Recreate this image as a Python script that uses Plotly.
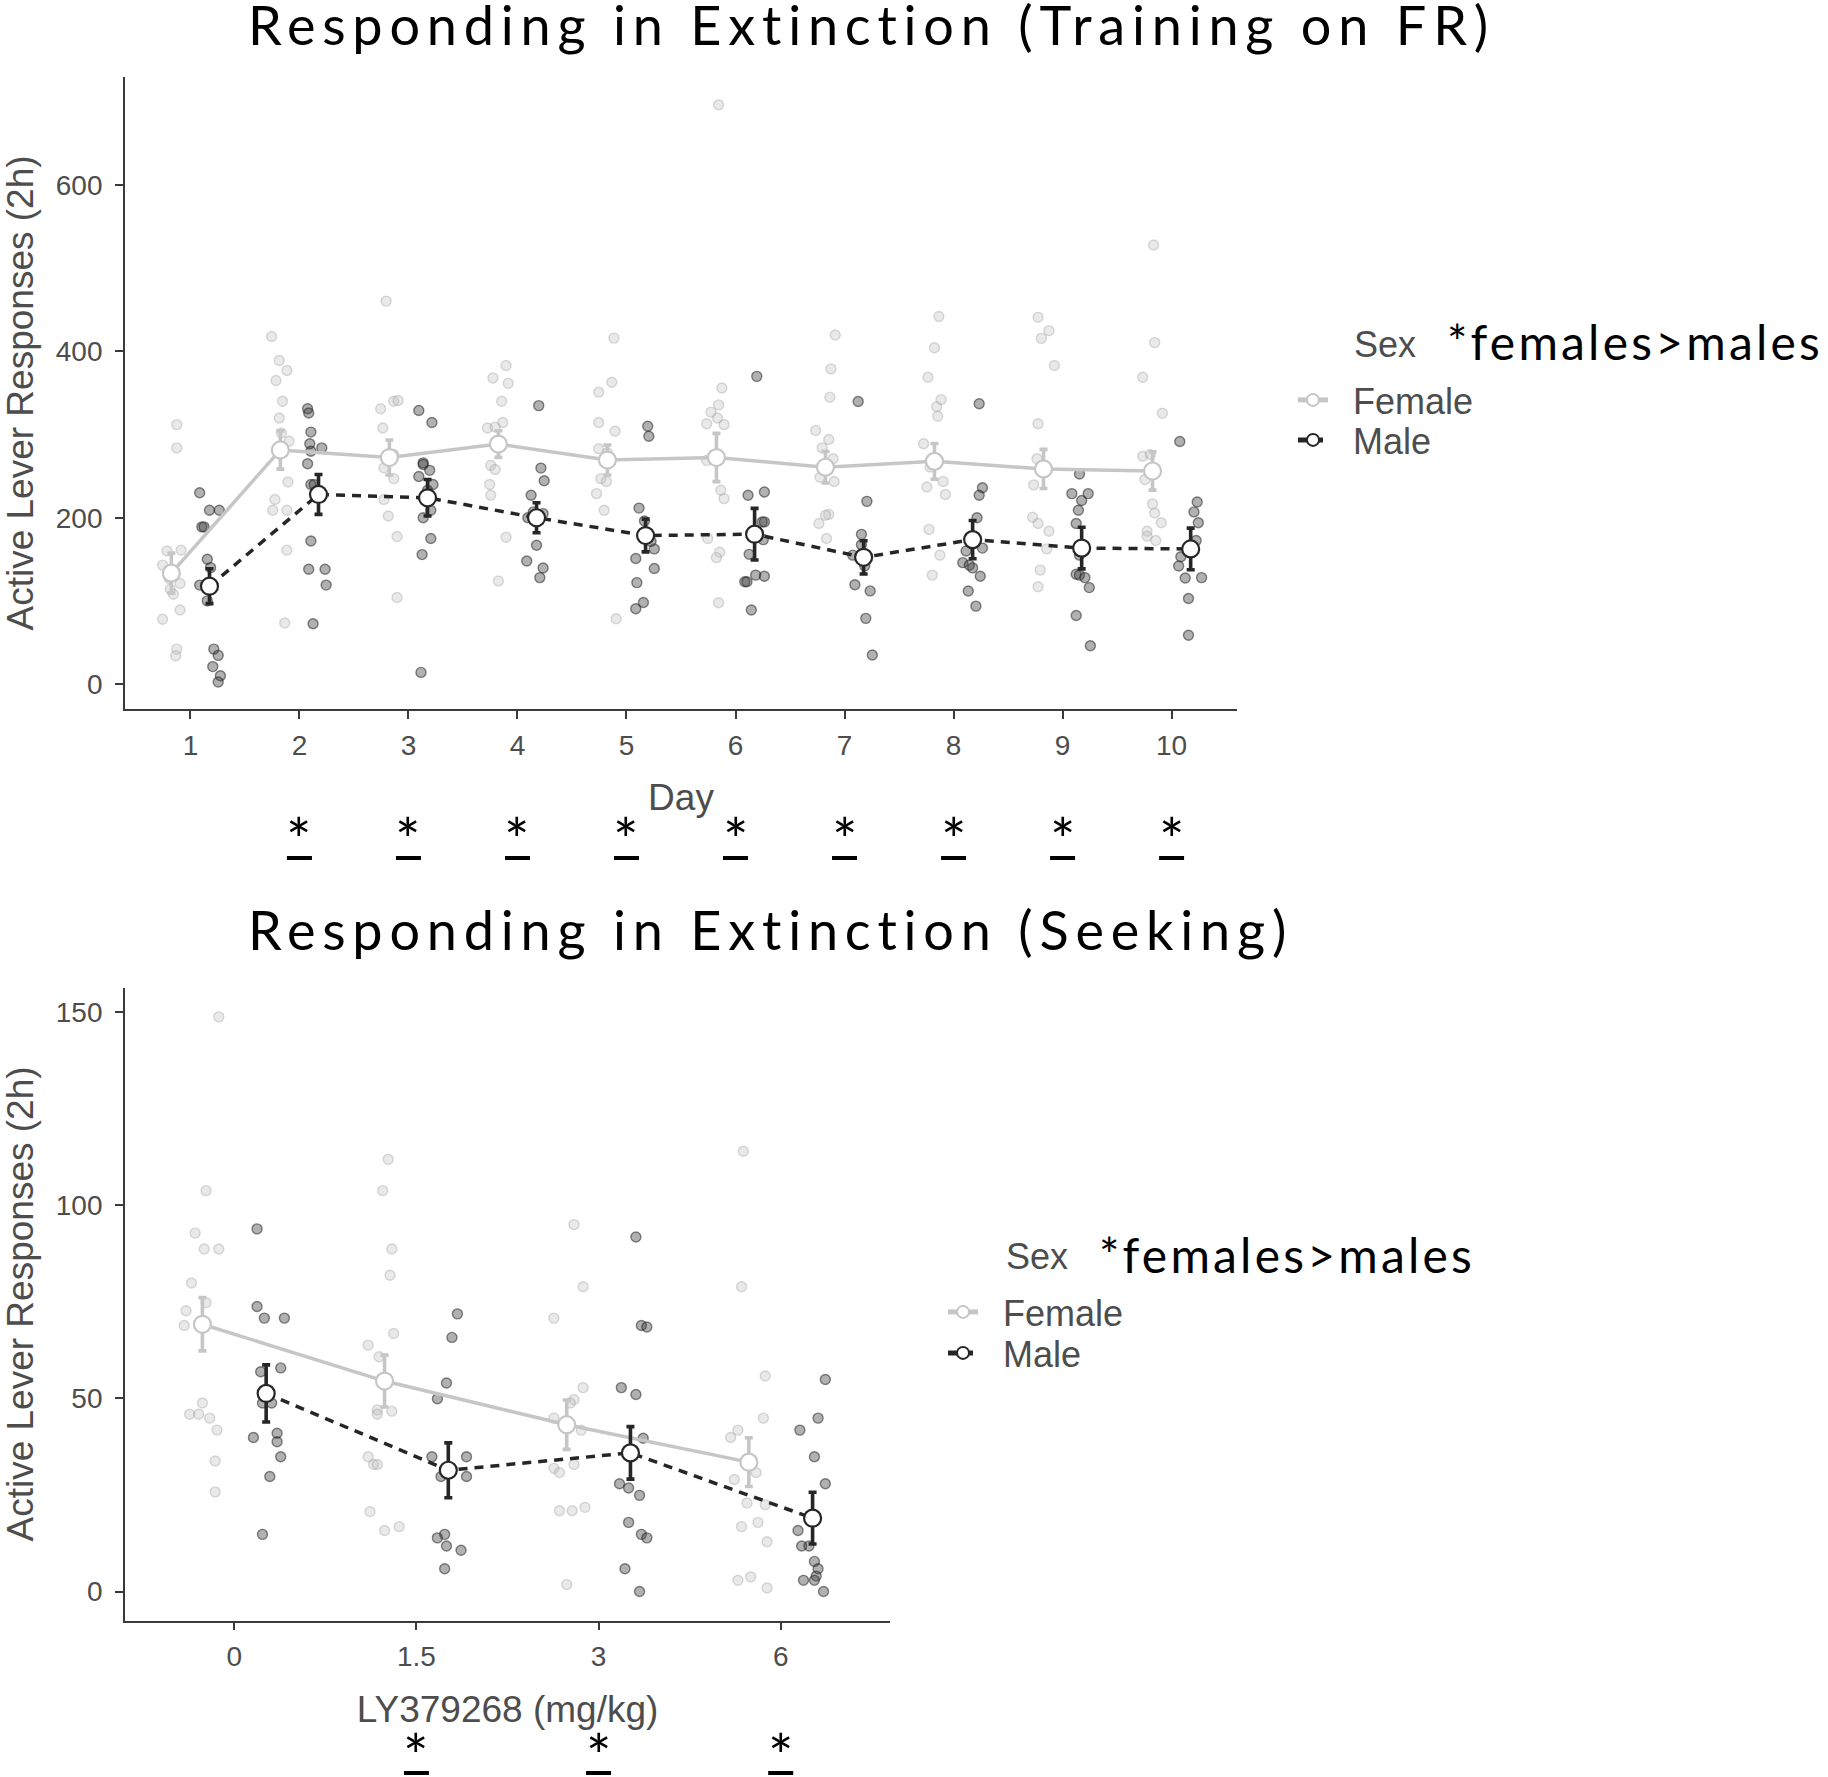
import plotly.graph_objects as go

# ---------------- data: Responding in Extinction (Training on FR) ----------------
days = [1, 2, 3, 4, 5, 6, 7, 8, 9, 10]
day_labels = ["1", "2", "3", "4", "5", "6", "7", "8", "9", "10"]
fr_female_mean = [133.4, 281.5, 272.4, 288.6, 269.4, 272.4, 260.7, 267.8, 258.7, 256.2]
fr_female_se = [24, 23, 21, 16, 18, 29, 19, 21.5, 23.5, 23]
fr_male_mean = [117.7, 228, 224, 200, 178.6, 180.2, 152.4, 173.7, 163.5, 162.5]
fr_male_se = [21, 24, 22, 18, 19.7, 31, 20, 23, 25, 25]

# individual animals (values) and their horizontal jitter
fr_female_y = [
    [312, 284, 160, 161, 143, 127, 121, 114, 108, 89, 78, 42, 34],
    [418, 389, 365, 377, 340, 320, 302, 292, 243, 222, 209, 209, 161, 73.5],
    [460.5, 331, 340, 341, 308, 276, 260, 247, 222, 202, 177.5, 104],
    [383, 368, 361.6, 340, 308, 309, 314.5, 263, 258, 240, 227, 176.5, 124],
    [416, 363, 351, 314.5, 304, 283, 278, 247, 243.5, 229, 209, 78.6],
    [696.5, 356, 335.7, 327, 313, 320, 312, 269, 233, 223, 175, 158.5, 152, 97.7],
    [419.7, 379, 345, 305, 294, 284, 271, 248.6, 243.5, 204, 193, 175, 203],
    [442, 404.5, 369, 342, 333.6, 322, 289, 261, 237, 243.5, 228, 186, 155, 131],
    [441, 425, 415.7, 383, 313, 271, 239.5, 200.5, 193, 183.8, 162.5, 137, 117],
    [528, 410.6, 369, 325.6, 274, 276, 246, 216.7, 205.6, 194, 183.8, 172.6, 177.7],
]
fr_female_dx = [
    [.05, .05, -.04, .09, -.08, -.02, .08, -.01, .02, .08, -.08, .05, .04],
    [-.08, -.01, -.04, .06, .02, -.01, .01, .08, .07, -.05, -.07, .06, .06, .04],
    [-.03, -.08, .04, .08, -.06, .04, -.05, .04, -.05, -.01, .07, .07],
    [.07, -.05, .09, .03, -.10, -.03, .04, -.07, -.03, -.08, -.07, .07, 0],
    [.06, .04, -.08, -.08, .07, -.08, 0, -.06, -.01, -.10, -.03, .08],
    [.02, .05, .02, -.05, -.09, .01, .07, -.09, .04, .07, -.08, .03, 0, .02],
    [.09, .05, .04, -.09, .03, -.03, .07, -.05, .08, .03, -.06, .01, 0],
    [.04, 0, -.06, .06, .02, .03, -.10, -.04, -.07, .08, .10, -.05, .05, -.02],
    [-.05, .05, -.02, .10, -.05, -.06, -.09, -.10, -.05, .05, .03, -.03, -.05],
    [.01, .02, -.09, .09, -.09, -.02, -.07, 0, .02, .08, -.05, .03, -.05],
]
fr_male_y = [
    [230, 189, 189, 209, 209, 150, 140, 119, 100, 42, 34.5, 21, 10, 2.5],
    [331, 326, 303, 289, 284, 280, 265, 240, 240, 172, 138, 138, 119, 72.5],
    [329, 314.5, 266, 264, 257, 249.5, 240, 233, 209, 200, 175, 155.7, 14],
    [334.8, 259.7, 244.5, 227, 207, 205, 200, 199, 167, 148, 139.5, 128],
    [310, 298, 211.6, 196, 171.6, 162.5, 151, 139, 122, 98, 90.6],
    [370, 227, 231, 195, 195, 156, 173.7, 131, 129.6, 123, 123, 89],
    [339.7, 219.7, 180, 167.6, 155, 142, 119.5, 112, 79, 35],
    [337, 236, 227, 200, 163.5, 160, 146, 143, 139.7, 129.6, 111.9, 93.7],
    [252.6, 229, 220.7, 229, 209, 193, 155, 132, 131, 128, 116, 82.5, 46],
    [291.6, 219, 207, 194, 172.6, 162.5, 153, 142, 127.6, 128, 102.8, 58.7],
]
fr_male_dx = [
    [-.09, -.07, -.05, 0, .09, -.02, .01, -.09, -.02, .04, .08, .03, .10, .08],
    [-.10, -.09, -.07, -.08, .03, -.07, -.10, -.07, -.04, -.07, -.09, .06, .07, -.05],
    [-.08, .04, -.04, -.04, .02, -.08, .05, 0, .03, -.04, .03, -.05, -.06],
    [.02, .04, .07, -.05, -.03, .06, -.08, .03, 0, -.09, .06, .03],
    [.02, .03, -.06, -.01, .05, .08, -.09, .08, -.08, -.02, -.09],
    [.02, -.06, .09, .07, .09, -.05, .08, .01, .09, -.09, -.07, -.03],
    [-.05, .03, -.02, -.02, -.10, .01, -.08, .06, .02, .08],
    [.06, .09, .06, .04, .09, -.06, -.09, -.03, 0, .07, -.04, .03],
    [-.02, -.09, 0, .06, -.03, -.05, -.02, -.05, -.02, .03, .07, -.05, .08],
    [-.10, .06, .03, .07, .05, .03, -.09, -.11, -.05, .10, -.02, -.02],
]
fr_sig_days = [2, 3, 4, 5, 6, 7, 8, 9, 10]

# ---------------- data: Responding in Extinction (Seeking) ----------------
doses = ["0", "1.5", "3", "6"]
ly_female_mean = [69.2, 54.5, 43.2, 33.5]
ly_female_se = [6.9, 6.7, 6.4, 6.3]
ly_male_mean = [51.3, 31.4, 35.9, 19.0]
ly_male_se = [7.4, 7.1, 6.8, 6.7]
ly_female_y = [
    [148.8, 103.8, 92.8, 88.7, 88.7, 79.9, 72.7, 74.8, 68.9, 48.8, 45.9, 45.9, 44.9, 41.8, 33.8, 25.8],
    [111.9, 103.8, 88.7, 81.9, 66.8, 63.8, 60.8, 47, 45.9, 46.7, 34.9, 32.9, 32.9, 20.7, 15.8, 16.8],
    [95, 78.9, 70.8, 52.8, 49.7, 48.8, 44.9, 41.8, 32.9, 31.9, 30.8, 20.9, 20.9, 21.8, 1.8],
    [114, 78.9, 55.8, 44.9, 41.8, 39.9, 30.8, 29, 22.9, 22.5, 17.9, 16.8, 12.9, 3.8, 2.9, 0.9],
]
ly_female_dx = [
    [.09, .02, -.04, .01, .09, -.06, -.09, .02, -.10, 0, -.07, -.02, .04, .08, .07, .07],
    [.02, -.01, .04, .03, .05, -.09, -.03, -.04, -.04, .04, -.09, -.06, -.04, -.08, 0, .08],
    [.04, .09, -.07, .09, .04, .02, -.07, .08, .04, -.07, -.04, -.04, .03, .10, 0],
    [-.03, -.04, .09, .08, -.06, -.10, .04, -.08, -.01, .09, .05, -.04, .10, .01, -.06, .10],
]
ly_male_y = [
    [93.9, 73.8, 70.8, 70.8, 56.9, 57.9, 48.8, 48.8, 41, 39.9, 38.8, 34.9, 29.8, 14.8],
    [71.9, 65.8, 54, 49.9, 34.9, 34.9, 29.8, 29.8, 14.8, 13.9, 11.8, 10.7, 5.9],
    [91.8, 68.9, 68.5, 52.8, 51, 39.7, 27.9, 26.8, 24.9, 17.9, 14.8, 13.9, 5.9, 0],
    [54.9, 44.9, 41.8, 34.9, 27.9, 15.8, 11.8, 11.8, 7.8, 5.9, 4, 2.9, 2.9, 0],
]
ly_male_dx = [
    [-.05, -.05, -.01, .10, -.03, .08, -.02, .03, .06, -.07, .06, .08, .02, -.02],
    [.05, .02, -.01, -.06, -.09, .10, -.04, .10, -.02, -.06, -.01, .07, -.02],
    [.03, .06, .09, -.05, .03, .07, -.06, -.01, .05, -.01, .06, .09, -.03, .05],
    [.07, .03, -.07, .01, .07, -.08, -.06, -.02, .01, .03, .02, -.05, .01, .06],
]
ly_sig_doses = ["1.5", "3", "6"]

# ---------------- styling ----------------
W, H = 1828, 1777
DODGE = 0.175
F_COL = "#c6c6c6"
M_COL = "#262626"
AX_COL = "#3a3a3a"
TXT_COL = "#4d4d4d"
SANS = "Liberation Sans, Arial, sans-serif"
CAL = "Lato, Carlito, Calibri, sans-serif"
PAD = "\u00a0" * 2  # gap between legend key and label, as in the reference


def px_x(v):
    return v / W


def px_y(v):
    return 1 - v / H


fig = go.Figure()


def add_points(centres, ylists, dxlists, sign, fill, edge, xa, ya):
    xs, ys = [], []
    for c, yl, dl in zip(centres, ylists, dxlists):
        for y, d in zip(yl, dl):
            xs.append(c + sign * DODGE + d)
            ys.append(y)
    fig.add_trace(go.Scatter(
        x=xs, y=ys, mode="markers", xaxis=xa, yaxis=ya, showlegend=False,
        hoverinfo="skip",
        marker=dict(size=10, color=fill, line=dict(color=edge, width=1.4)),
    ))


def add_means(centres, mean, se, sign, name, colour, dash, xa, ya, legend):
    fig.add_trace(go.Scatter(
        x=[c + sign * DODGE for c in centres], y=mean, name=PAD + name,
        mode="lines+markers", xaxis=xa, yaxis=ya, legend=legend,
        line=dict(color=colour, width=3.5, dash=dash),
        marker=dict(size=17, color="white", line=dict(color=colour, width=2.2)),
        error_y=dict(type="data", array=se, color=colour, thickness=3.6, width=4),
    ))


F_PT = ("rgba(190,190,190,0.34)", "rgba(150,150,150,0.34)")
M_PT = ("rgba(60,60,60,0.40)", "rgba(30,30,30,0.52)")

# top panel
add_points(days, fr_female_y, fr_female_dx, -1, *F_PT, "x", "y")
add_points(days, fr_male_y, fr_male_dx, 1, *M_PT, "x", "y")
add_means(days, fr_female_mean, fr_female_se, -1, "Female", F_COL, "solid", "x", "y", "legend")
add_means(days, fr_male_mean, fr_male_se, 1, "Male", M_COL, "9px,7px", "x", "y", "legend2")

# bottom panel
dose_idx = list(range(len(doses)))
add_points(dose_idx, ly_female_y, ly_female_dx, -1, *F_PT, "x2", "y2")
add_points(dose_idx, ly_male_y, ly_male_dx, 1, *M_PT, "x2", "y2")
add_means(dose_idx, ly_female_mean, ly_female_se, -1, "Female", F_COL, "solid", "x2", "y2", "legend3")
add_means(dose_idx, ly_male_mean, ly_male_se, 1, "Male", M_COL, "9px,7px", "x2", "y2", "legend4")

axis_common = dict(
    showline=True, linecolor=AX_COL, linewidth=1.8, ticks="outside", ticklen=8,
    tickwidth=1.8, tickcolor=AX_COL, showgrid=False, zeroline=False,
    tickfont=dict(family=SANS, size=28, color=TXT_COL),
    title_font=dict(family=SANS, size=37, color=TXT_COL),
)

legend_common = dict(
    xanchor="left", yanchor="middle", bgcolor="rgba(0,0,0,0)",
    font=dict(family=SANS, size=36, color=TXT_COL), itemwidth=30,
    itemsizing="constant",
)

TITLE_SP = '<span style="letter-spacing:6.8px">%s</span>'
NOTE_SP = '<span style="letter-spacing:3.2px">%s</span>'
annotations = [
    dict(text=TITLE_SP % "Responding in Extinction (Training on FR)",
         xref="paper", yref="paper", x=px_x(246), y=px_y(24), xanchor="left", yanchor="middle",
         showarrow=False, font=dict(family=CAL, size=54, color="black")),
    dict(text=TITLE_SP % "Responding in Extinction (Seeking)",
         xref="paper", yref="paper", x=px_x(246), y=px_y(930), xanchor="left", yanchor="middle",
         showarrow=False, font=dict(family=CAL, size=54, color="black")),
    dict(text="Sex", xref="paper", yref="paper", x=px_x(1352), y=px_y(345), xanchor="left",
         yanchor="middle", showarrow=False, font=dict(family=SANS, size=36, color=TXT_COL)),
    dict(text="Sex", xref="paper", yref="paper", x=px_x(1004), y=px_y(1256), xanchor="left",
         yanchor="middle", showarrow=False, font=dict(family=SANS, size=36, color=TXT_COL)),
    dict(text=NOTE_SP % "*females&gt;males", xref="paper", yref="paper",
         x=px_x(1445), y=px_y(341), xanchor="left", yanchor="middle", showarrow=False,
         font=dict(family=CAL, size=48, color="black")),
    dict(text=NOTE_SP % "*females&gt;males", xref="paper", yref="paper",
         x=px_x(1097), y=px_y(1254), xanchor="left", yanchor="middle", showarrow=False,
         font=dict(family=CAL, size=48, color="black")),
]
shapes = []
for d in fr_sig_days:
    annotations.append(dict(text="*", xref="x", yref="paper", x=d, y=px_y(839), xanchor="center",
                            yanchor="middle", showarrow=False, font=dict(family=CAL, size=60, color="black")))
    shapes.append(dict(type="line", xref="x", yref="paper", xsizemode="pixel", xanchor=d,
                       x0=-12.5, x1=12.5, y0=px_y(858), y1=px_y(858),
                       line=dict(color="black", width=4)))
for dz in ly_sig_doses:
    i = doses.index(dz)
    annotations.append(dict(text="*", xref="x2", yref="paper", x=i, y=px_y(1755), xanchor="center",
                            yanchor="middle", showarrow=False, font=dict(family=CAL, size=60, color="black")))
    shapes.append(dict(type="line", xref="x2", yref="paper", xsizemode="pixel", xanchor=i,
                       x0=-12.5, x1=12.5, y0=px_y(1773), y1=px_y(1773),
                       line=dict(color="black", width=4)))

fig.update_layout(
    width=W, height=H, margin=dict(l=0, r=0, t=0, b=0, autoexpand=False),
    paper_bgcolor="white", plot_bgcolor="white",
    font=dict(family=SANS, color=TXT_COL),
    xaxis=dict(domain=[px_x(125), px_x(1237)], anchor="y", range=[0.4, 10.6],
               tickmode="array", tickvals=days, ticktext=day_labels,
               title=dict(text="Day", standoff=25), ticklabelstandoff=2, **axis_common),
    yaxis=dict(domain=[px_y(709), px_y(77)], anchor="x", range=[-30, 730],
               tickmode="array", tickvals=[0, 200, 400, 600],
               title=dict(text="Active Lever Responses (2h)", standoff=22), ticklabelstandoff=7,
               **axis_common),
    xaxis2=dict(domain=[px_x(125), px_x(890)], anchor="y2", range=[-0.6, 3.6],
                tickmode="array", tickvals=dose_idx, ticktext=doses,
                title=dict(text="LY379268 (mg/kg)", standoff=25), ticklabelstandoff=2, **axis_common),
    yaxis2=dict(domain=[px_y(1620.5), px_y(987.5)], anchor="x2", range=[-7.5, 156.4],
                tickmode="array", tickvals=[0, 50, 100, 150],
                title=dict(text="Active Lever Responses (2h)", standoff=22), ticklabelstandoff=7,
                **axis_common),
    legend=dict(x=px_x(1293), y=px_y(400), **legend_common),
    legend2=dict(x=px_x(1293), y=px_y(440), **legend_common),
    legend3=dict(x=px_x(943), y=px_y(1312), **legend_common),
    legend4=dict(x=px_x(943), y=px_y(1353), **legend_common),
    annotations=annotations,
    shapes=shapes,
)

fig.write_html("out.html", config={"displayModeBar": False},
               post_script="document.body.style.margin='0px';")
